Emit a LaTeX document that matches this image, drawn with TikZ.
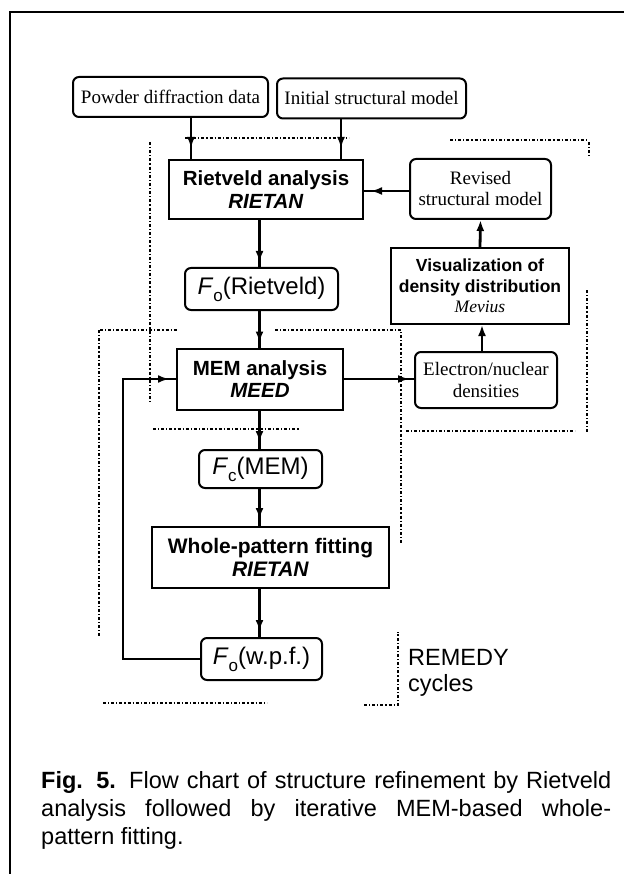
\documentclass[tikz,border=0pt]{standalone}
\usepackage{fontspec}
\setmainfont{Liberation Serif}
\setsansfont{Liberation Sans}
\usetikzlibrary{arrows.meta,calc}
\newcommand{\subo}[1]{\raisebox{-0.3em}{\fontsize{17}{17}\selectfont #1}}
\begin{document}
\begin{tikzpicture}[x=1pt,y=-1pt,
  rbox/.style={draw, line width=2pt, rounded corners=6pt, inner sep=0pt, align=center,
     font=\fontsize{19}{21}\selectfont},
  sbox/.style={draw, line width=2pt, inner sep=0pt, align=center,
     font=\sffamily\bfseries\fontsize{20.5}{23}\selectfont},
  fbox/.style={rbox, font=\sffamily\fontsize{24}{26}\selectfont},
  conn/.style={line width=2.8pt},
  arr/.style={conn, -{Latex[length=11pt,width=8pt]}, shorten >=#1},
  arr/.default=6pt,
  dd/.style={line width=1.3pt, dash pattern=on 3pt off 2pt on 1.2pt off 2pt}
]
\useasboundingbox (0,0) rectangle (624,874);
% frame
\draw[line width=2.6pt] (10,874) -- (10,12) -- (624,12);

% nodes
\node[rbox, minimum width=195pt, minimum height=40pt] (pd) at (170.5,97) {Powder diffraction data};
\node[rbox, minimum width=189pt, minimum height=40pt] (im) at (371.5,98.5) {Initial structural model};
\node[sbox, minimum width=194pt, minimum height=59pt] (rv) at (266,189.5) {Rietveld analysis\\\textit{RIETAN}};
\node[rbox, minimum width=141pt, minimum height=60pt] (rev) at (480.5,189) {Revised\\structural model};
\node[sbox, minimum width=178pt, minimum height=76pt, font=\sffamily\bfseries\fontsize{17.5}{20.5}\selectfont] (vis) at (480,286) {Visualization of\\density distribution\\{\rmfamily\mdseries\itshape Mevius}};
\node[fbox, minimum width=153pt, minimum height=42pt] (fo1) at (261.5,289) {\textit{F}\subo{o}(Rietveld)};
\node[sbox, minimum width=166pt, minimum height=61pt, font=\sffamily\bfseries\fontsize{20.5}{22}\selectfont] (mem) at (260,379) {MEM analysis\\\textit{MEED}};
\node[rbox, minimum width=142pt, minimum height=56pt, font=\fontsize{19}{22}\selectfont] (el) at (486,380) {Electron/nuclear\\densities};
\node[fbox, minimum width=123pt, minimum height=38pt] (fc) at (260.5,469) {\textit{F}\subo{c}(MEM)};
\node[sbox, minimum width=237pt, minimum height=61pt, font=\sffamily\bfseries\fontsize{21}{23.5}\selectfont] (wh) at (270.5,557.5) {Whole-pattern fitting\\\textit{RIETAN}};
\node[fbox, minimum width=121pt, minimum height=42pt] (fo3) at (261.5,659) {\textit{F}\subo{o}(w.p.f.)};

\node[anchor=north west, inner sep=0pt, align=left, font=\sffamily\fontsize{23.5}{26}\selectfont] (rem) at (408,649) {REMEDY\\cycles};

\node[anchor=north west, inner sep=0pt, text width=570pt, align=justify,
      font=\sffamily\fontsize{23.5}{28}\selectfont] (cap) at (41,771)
 {\textbf{Fig. 5.} Flow chart of structure refinement by Rietveld\linebreak
  analysis followed by iterative MEM-based whole-\linebreak pattern fitting.};

% helper coordinates
\coordinate (px) at (191,0);
\coordinate (ix) at (341,0);
\coordinate (cx) at (259.5,0);
\coordinate (ry) at (0,191);
\coordinate (ex) at (482,0);
\coordinate (fbx) at (123,0);

% connectors
\draw[conn] (pd.south -| px) -- (rv.north -| px);
\draw[arr=11pt] (pd.south -| px) -- (rv.north -| px);
\draw[conn] (im.south -| ix) -- (rv.north -| ix);
\draw[arr=11pt] (im.south -| ix) -- (rv.north -| ix);
\draw[conn] (rv.south -| cx) -- (fo1.north -| cx);
\draw[arr=5pt] (rv.south -| cx) -- (fo1.north -| cx);
\draw[conn] (fo1.south -| cx) -- (mem.north -| cx);
\draw[arr=5pt] (fo1.south -| cx) -- (mem.north -| cx);
\draw[conn] (mem.south -| cx) -- (fc.north -| cx);
\draw[arr=7pt] (mem.south -| cx) -- (fc.north -| cx);
\draw[conn] (fc.south -| cx) -- (wh.north -| cx);
\draw[arr=7pt] (fc.south -| cx) -- (wh.north -| cx);
\draw[conn] (wh.south -| cx) -- (fo3.north -| cx);
\draw[arr=6pt] (wh.south -| cx) -- (fo3.north -| cx);
\draw[conn] (rev.west |- ry) -- (rv.east |- ry);
\draw[arr=7pt] (rev.west |- ry) -- (rv.east |- ry);
\draw[arr=0pt] (vis.north) -- (rev.south);
\draw[arr=0pt] (el.north -| ex) -- (vis.south -| ex);
\draw[conn] (mem.east) -- (mem.east -| el.west);
\draw[arr=5pt] (mem.east) -- (mem.east -| el.west);
\draw[conn, line join=miter] (fo3.west) -| (fbx |- mem.west) -- (mem.west);
\draw[arr=7pt] (fbx |- mem.west) -- (mem.west);

% dotted group outlines
\draw[dd] (185,138) -- (349,138);
\draw[dd] (150,142) -- (150,402);
\draw[dd] (153,429) -- (300,429);
\draw[dd] (450,140) -- (589,140);
\draw[dd] (589,142) -- (589,156);
\draw[dd] (587,290) -- (587,432);
\draw[dd] (406,431) -- (575,431);
\draw[dd] (100,330) -- (177,330);
\draw[dd] (275,330) -- (401,330) -- (401,543);
\draw[dd] (99,330) -- (99,638);
\draw[dd] (103,703) -- (267,703);
\draw[dd] (364,705) -- (398,705) -- (398,632);
\end{tikzpicture}
\end{document}
